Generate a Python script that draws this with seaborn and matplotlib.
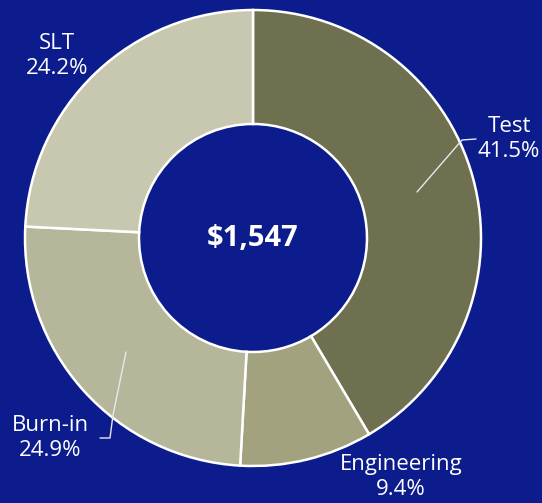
import matplotlib
matplotlib.use("Agg")
import matplotlib.pyplot as plt
import seaborn as sns

# data
segments = ["Test", "Engineering", "Burn-in", "SLT"]
shares = [41.5, 9.4, 24.9, 24.2]
total_label = "$1,547"
colors = ["#6e7050", "#a2a27e", "#b6b79a", "#c8c8b1"]

bg = "#0c1c8c"
sns.set_style("white")
plt.rcParams['font.family'] = ['Open Sans', 'DejaVu Sans']

fig = plt.figure(figsize=(5.42, 5.03), dpi=100, facecolor=bg)
ax = fig.add_axes([0, 0, 1, 1])
ax.set_facecolor(bg)
H = 503

cx, cy, r = 253, H - 238, 228
ax.pie(shares, colors=colors, startangle=90, counterclock=False,
       center=(cx, cy), radius=r, frame=True,
       wedgeprops=dict(width=r - 114, edgecolor="white", linewidth=1.8))
ax.set_xlim(0, 542)
ax.set_ylim(0, H)
ax.set_aspect("equal")
ax.axis("off")

ax.text(cx, cy, total_label, color="white", fontsize=21, fontweight="bold",
        ha="center", va="center")

# labels
label_pos = {"Test": (509, 139), "Engineering": (401, 477),
             "Burn-in": (50, 438), "SLT": (57, 56)}
for name, val in zip(segments, shares):
    x, y = label_pos[name]
    ax.text(x, H - y, f"{name}\n{val}%", color="white", fontsize=16,
            ha="center", va="center", linespacing=1.2)

# leader lines
lw = 1.0
ax.plot([417, 462, 476], [H - 192, H - 140, H - 139], color="#e8e8f0", lw=lw)
ax.plot([126, 113, 110, 100], [H - 352, H - 415, H - 438, H - 438],
        color="#e8e8f0", lw=lw)

fig.savefig("out.png", dpi=100, facecolor=bg)
